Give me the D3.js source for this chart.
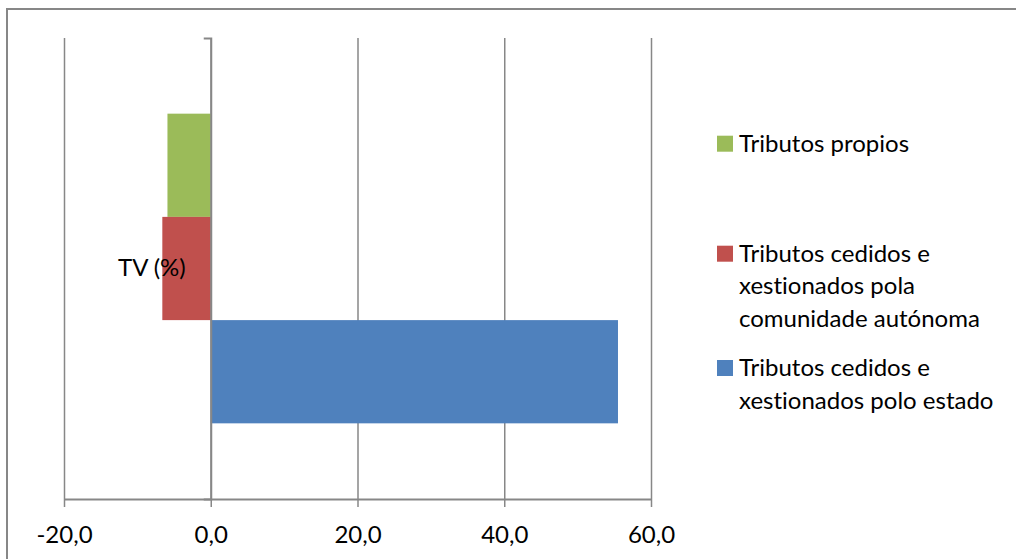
<!DOCTYPE html>
<html>
<head>
<meta charset="utf-8">
<script src="https://cdn.jsdelivr.net/npm/d3@7"></script>
<style>
  html, body { margin: 0; padding: 0; background: #fff; overflow: hidden; }
  svg { display: block; }
  text { font-family: Lato, "Open Sans", sans-serif; fill: #000; font-variant-ligatures: none; font-feature-settings: "liga" 0, "clig" 0; }
</style>
</head>
<body>
<svg id="chart" width="1016" height="559"></svg>
<script>
// ---- data ----
const categories = ["TV (%)"];
const seriesNames = [
  "Tributos propios",
  "Tributos cedidos e xestionados pola comunidade autónoma",
  "Tributos cedidos e xestionados polo estado"
];
const seriesValues = [-5.9, -6.6, 55.5];
const seriesColors = ["#9BBB59", "#C0504D", "#4F81BD"];
const legendLines = [
  ["Tributos propios"],
  ["Tributos cedidos e", "xestionados pola", "comunidade autónoma"],
  ["Tributos cedidos e", "xestionados polo estado"]
];
const xTicks = [-20, 0, 20, 40, 60];
const xDomain = [-20, 60];

// ---- layout ----
const W = 1016, H = 559;
const plot = { left: 64, right: 651, top: 38, bottom: 499 };
const fontSize = 24;
const gridColor = "#878787";

const svg = d3.select("#chart");

// outer border (only top/left visible in reference)
svg.append("rect")
  .attr("x", 7).attr("y", 9)
  .attr("width", W + 20).attr("height", H + 20)
  .attr("fill", "#fff")
  .attr("stroke", "#878787").attr("stroke-width", 2);

const x = d3.scaleLinear().domain(xDomain).range([plot.left, plot.right]);
const y0 = d3.scaleBand().domain(categories).range([plot.top, plot.bottom]).padding(0);
const ys = d3.scaleBand().domain(seriesNames).range([0, y0.bandwidth()])
  .paddingInner(0).paddingOuter(0.733);

// gridlines
const grid = svg.append("g")
  .attr("transform", `translate(0,${plot.bottom})`)
  .call(d3.axisBottom(x).tickValues(xTicks).tickSize(-(plot.bottom - plot.top)).tickFormat(""));
grid.select(".domain").remove();
grid.selectAll(".tick line").attr("stroke", gridColor).attr("stroke-width", 1.5);

// bars
const rows = seriesNames.map((s, i) => ({ cat: categories[0], name: s, value: seriesValues[i], color: seriesColors[i] }));
svg.append("g").selectAll("rect")
  .data(rows)
  .join("rect")
  .attr("x", d => x(Math.min(0, d.value)))
  .attr("width", d => Math.abs(x(d.value) - x(0)))
  .attr("y", d => y0(d.cat) + ys(d.name))
  .attr("height", ys.bandwidth())
  .attr("fill", d => d.color);

// x axis
const locale = d3.formatLocale({ decimal: ",", thousands: ".", grouping: [3], currency: ["", " €"], minus: "-" });
const fmt = locale.format(".1f");
const xAxis = svg.append("g")
  .attr("transform", `translate(0,${plot.bottom})`)
  .call(d3.axisBottom(x).tickValues(xTicks).tickSize(8).tickSizeOuter(0).tickFormat(fmt));
xAxis.select(".domain").attr("stroke", gridColor).attr("stroke-width", 2);
xAxis.selectAll(".tick line").attr("stroke", gridColor).attr("stroke-width", 1.5);
xAxis.selectAll(".tick text")
  .attr("y", 44).attr("dy", 0)
  .style("font-size", fontSize + "px")
  .style("font-family", "Lato, 'Open Sans', sans-serif")
  .attr("fill", "#000");

// y (category) axis at x=0
const yAxis = svg.append("g")
  .attr("transform", `translate(${x(0)},0)`)
  .call(d3.axisLeft(y0).tickSizeInner(0).tickSizeOuter(7).tickPadding(25));
yAxis.select(".domain").attr("stroke", gridColor).attr("stroke-width", 2);
yAxis.selectAll(".tick text")
  .style("font-size", fontSize + "px")
  .style("font-family", "Lato, 'Open Sans', sans-serif")
  .attr("fill", "#000");

// legend
const legendX = 717, textX = 739, lineH = 32.5;
const legendBaselines = [151.7, 261.7, 376];
const lg = svg.append("g");
seriesNames.forEach((s, i) => {
  const g = lg.append("g");
  g.append("rect")
    .attr("x", legendX).attr("y", legendBaselines[i] - 16)
    .attr("width", 16).attr("height", 16)
    .attr("fill", seriesColors[i]);
  const t = g.append("text")
    .attr("x", textX).attr("y", legendBaselines[i])
    .style("font-size", fontSize + "px");
  legendLines[i].forEach((ln, j) => {
    t.append("tspan").attr("x", textX).attr("dy", j === 0 ? 0 : lineH).text(ln);
  });
});
</script>
</body>
</html>
